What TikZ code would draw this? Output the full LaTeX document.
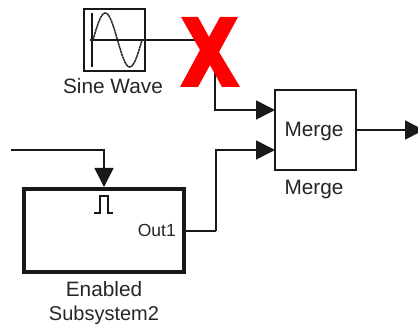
\documentclass[tikz,border=0pt]{standalone}
\usepackage{fontspec}
\setmainfont{Liberation Sans}
\usetikzlibrary{arrows.meta}
\tikzset{
  x=1pt,y=-1pt,
  wire/.style={draw=black!90,line width=1.5pt},
  wirehead/.style={wire,-{Triangle[length=19pt,width=19pt]}},
  lbl/.style={inner sep=0pt,text=black!85,font=\fontsize{20}{24}\selectfont,align=center},
  lblwide/.style={lbl,font=\fontsize{20.8}{24}\selectfont},
  lblsmall/.style={lbl,font=\fontsize{17.5}{21}\selectfont},
  blockbox/.style={draw=black!90,fill=white,inner sep=0pt,outer sep=0pt,anchor=north west},
}
\begin{document}
\begin{tikzpicture}
\path[clip] (0,0) rectangle (418,326);
\fill[white] (0,0) rectangle (418,326);

% blocks
\node[blockbox,line width=2pt,minimum width=61pt,minimum height=62pt] (sine) at (84,9) {};
\node[blockbox,line width=1.7pt,minimum width=81pt,minimum height=80pt] (merge) at (275,90) {};
\node[blockbox,line width=3.6pt,minimum width=160pt,minimum height=83pt] (sub) at (24,189) {};

% free ends and bends
\coordinate (xin) at (203,40);
\coordinate (xout) at (215,58);
\coordinate (in1) at (275,110);
\coordinate (in2) at (275,150);
\coordinate (en) at (11,150);
\coordinate (entop) at (104,187);
\coordinate (out1) at (184,231);
\coordinate (bend) at (216,231);
\coordinate (outend) at (424,130);

% connectors
\draw[wire] (sine.east) -- (xin);
\draw[wirehead] (xout) |- (in1);
\draw[wire] (out1) -- (bend);
\draw[wirehead] (bend) |- (in2);
\draw[wirehead] (en) -| (entop);
\draw[wirehead] (merge.east) -- (outend);

% sine icon
\draw[line width=1.5pt,black!90] (92,13) -- (92,67) (90,40) -- (145,40);
\draw[line width=1.5pt,black!85,dash pattern=on 2.4pt off 0.5pt]
  plot[smooth,variable=\t,domain=0:360,samples=49] ({93+\t/360*49},{40-27*sin(\t)});

% red X
\node[inner sep=0pt] (xmark) at (209,50) {};
\fill[red] (181,17) -- (198,17) -- (209,37) -- (220,17) -- (238,17) -- (219,52)
  -- (240,87) -- (222,87) -- (210,65) -- (198,87) -- (180,87) -- (200,50) -- cycle;

% pulse icon
\draw[line width=1.3pt,black!90] (94,213) -- (100,213) -- (100,196) -- (108,196) -- (108,213) -- (113,213);

% labels
\node[lblwide] (sinelbl) at (113,86) {Sine Wave};
\node[lblwide] (mergein) at (314,132) {Merge};
\node[lblwide] (mergelbl) at (314,190) {Merge};
\node[lblsmall,anchor=east] (outlbl) at (176,230) {Out1};
\node[lblwide] (sublbl1) at (104,289) {Enabled};
\node[lbl] (sublbl2) at (104,315) {Subsystem2};
\end{tikzpicture}
\end{document}
